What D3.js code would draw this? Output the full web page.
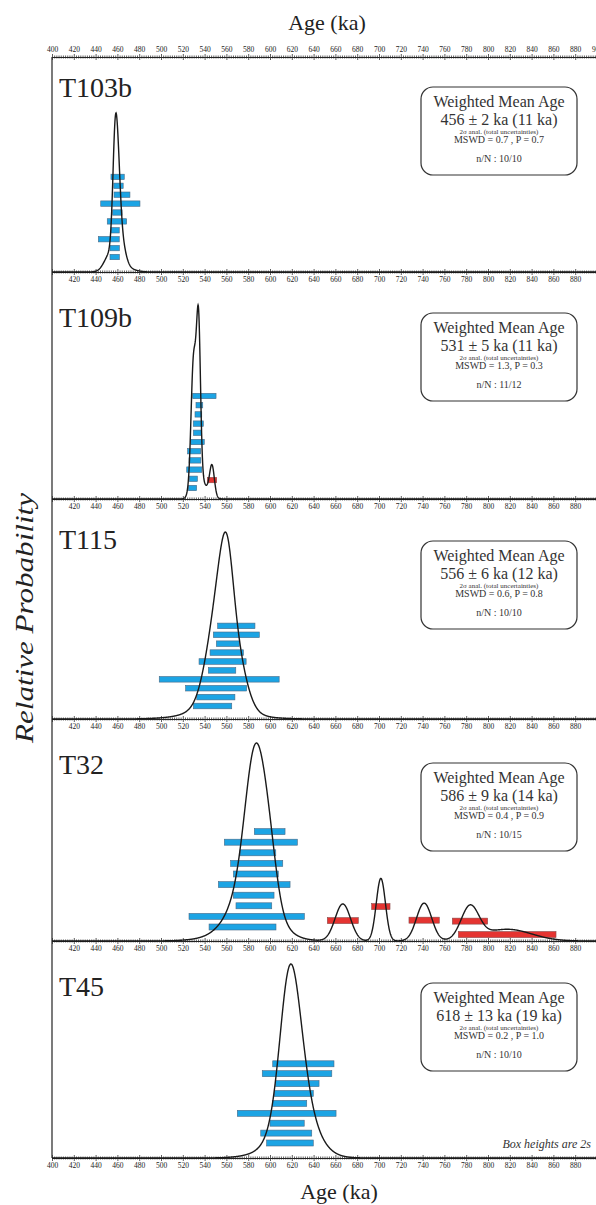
<!DOCTYPE html>
<html><head><meta charset="utf-8">
<script src="https://cdn.jsdelivr.net/npm/d3@7"></script>
<style>body{margin:0;background:#fff}svg{display:block}</style>
</head><body><svg id="c" width="596" height="1205"></svg>
<script>
// ---------------- DATA ----------------
const sampleNames = ["T103b", "T109b", "T115", "T32", "T45"];
// accepted analyses (age ka, 2σ half-width ka), listed top row to bottom row
const t103bAges = [460.2, 461.0, 464.2, 462.7, 460.0, 459.6, 457.9, 452.1, 457.5, 457.5];
const t103bErr  = [6.1, 4.3, 7.3, 18.0, 4.3, 8.9, 3.8, 9.6, 4.3, 4.3];
const t109bAges = [539.8, 535.2, 534.3, 534.2, 533.5, 533.5, 530.4, 531.1, 530.5, 529.7, 528.9];
const t109bErr  = [10.7, 3.1, 3.1, 4.6, 3.8, 6.2, 6.0, 5.4, 6.9, 3.7, 3.8];
const t115Ages  = [569.1, 569.1, 561.3, 560.3, 556.5, 556.0, 553.4, 550.6, 550.3, 547.3];
const t115Err   = [17.1, 21.1, 10.5, 15.3, 21.6, 12.6, 55.0, 28.0, 17.5, 17.6];
const t32Ages   = [599.7, 591.6, 588.9, 587.8, 587.0, 585.5, 585.0, 585.2, 578.6, 574.8];
const t32Err    = [14.1, 33.5, 16.4, 23.9, 20.6, 32.9, 18.7, 16.4, 52.9, 30.7];
const t45Ages   = [630.6, 624.8, 625.1, 621.8, 617.9, 615.3, 615.7, 614.9, 618.3];
const t45Err    = [28.1, 31.9, 19.9, 17.9, 15.8, 45.3, 15.7, 23.4, 21.4];
// rejected analyses (red)
const t103bRejAges = [], t103bRejErr = [];
const t109bRejAges = [546.8], t109bRejErr = [4.3];
const t115RejAges = [], t115RejErr = [];
const t32RejAges = [666.8, 701.7, 741.4, 783.5, 817.6];
const t32RejErr  = [14.2, 8.4, 13.9, 16.2, 44.8];
const t45RejAges = [], t45RejErr = [];
// result boxes
const meanAgeLabels = ["456 ± 2 ka (11 ka)", "531 ± 5 ka (11 ka)", "556 ± 6 ka (12 ka)", "586 ± 9 ka (14 ka)", "618 ± 13 ka (19 ka)"];
const mswdLabels = ["MSWD = 0.7 , P = 0.7", "MSWD = 1.3, P = 0.3", "MSWD = 0.6, P = 0.8", "MSWD = 0.4 , P = 0.9", "MSWD = 0.2 , P = 1.0"];
const nNLabels = ["n/N : 10/10", "n/N : 11/12", "n/N : 10/10", "n/N : 10/15", "n/N : 10/10"];
const majorTicks = d3.range(400, 901, 20);
const minorTicks = d3.range(400, 901, 2).filter(v => v % 20 !== 0);

const panels = [
  {acc: [t103bAges, t103bErr], rej: [t103bRejAges, t103bRejErr]},
  {acc: [t109bAges, t109bErr], rej: [t109bRejAges, t109bRejErr]},
  {acc: [t115Ages, t115Err], rej: [t115RejAges, t115RejErr]},
  {acc: [t32Ages, t32Err], rej: [t32RejAges, t32RejErr]},
  {acc: [t45Ages, t45Err], rej: [t45RejAges, t45RejErr]},
];

// ---------------- LAYOUT ----------------
const topAxisY = 57;
const axisY = [272, 499, 719, 941, 1158];
const peakY = [113, 305, 532, 743, 964];
const rowBottom = [15, 11, 13, 14, 15];
const rowStep = [8.9, 9.2, 8.9, 10.6, 9.9];
const barH = [5.4, 5.4, 5.6, 6, 6];
const labelBase = [97, 327, 549, 774, 996];
const boxTop = [87, 313, 541, 763, 983];
const boxX = 421, boxW = 156, boxH = 88;
const serif = "'Liberation Serif','Times New Roman',serif";
const blue = "#1ca4e4", red = "#e53431";

const svg = d3.select("#c");
const x = d3.scaleLinear().domain([400, 900]).range([52, 597]);

function drawAxis(y, labelsBelow, firstLabel) {
  const g = svg.append("g").attr("transform", `translate(0,${y})`);
  const mk = (dir, vals, size, labels) => {
    const ax = (dir === "up" ? d3.axisTop(x) : d3.axisBottom(x))
      .tickValues(vals).tickSizeInner(size).tickSizeOuter(0).tickPadding(2);
    if (!labels) ax.tickFormat("");
    else ax.tickFormat(v => v < firstLabel || (v > 890 && labelsBelow) ? "" : d3.format("d")(v));
    const a = g.append("g").call(ax);
    a.select(".domain").attr("stroke", "#222").attr("stroke-width", 1.2);
    a.selectAll(".tick line").attr("stroke", "#333").attr("stroke-width", 0.8);
    a.selectAll("text").attr("font-family", serif).attr("font-size", 7.5).attr("fill", "#222");
    return a;
  };
  mk("up", minorTicks, 1.5, false);
  mk("down", minorTicks, 1.5, false);
  mk("up", majorTicks, 3, !labelsBelow);
  mk("down", majorTicks, 3, labelsBelow);
}

// left frame
svg.append("line").attr("x1", x(400)).attr("x2", x(400)).attr("y1", topAxisY).attr("y2", axisY[4])
  .attr("stroke", "#222").attr("stroke-width", 1.2);

drawAxis(topAxisY, false, 400);
axisY.forEach((ay, i) => drawAxis(ay, true, i === 4 ? 400 : 420));

// titles
svg.append("text").attr("x", 327).attr("y", 30).attr("text-anchor", "middle")
  .attr("font-family", serif).attr("font-size", 22).attr("fill", "#222").text("Age (ka)");
svg.append("text").attr("x", 339).attr("y", 1199).attr("text-anchor", "middle")
  .attr("font-family", serif).attr("font-size", 22).attr("fill", "#222").text("Age (ka)");
svg.append("text").attr("transform", "translate(33,618) rotate(-90)").attr("text-anchor", "middle")
  .attr("font-family", serif).attr("font-style", "italic").attr("font-size", 26).attr("fill", "#222")
  .attr("textLength", 250).attr("lengthAdjust", "spacingAndGlyphs")
  .text("Relative Probability");
svg.append("text").attr("x", 591).attr("y", 1148).attr("text-anchor", "end")
  .attr("font-family", serif).attr("font-style", "italic").attr("font-size", 12).attr("fill", "#333")
  .text("Box heights are 2s");

const gauss = (v, m, s) => Math.exp(-0.5 * ((v - m) / s) ** 2) / (s * Math.sqrt(2 * Math.PI));
const grid = d3.range(400, 900.01, 0.25);

panels.forEach((p, i) => {
  const [aA, aE] = p.acc, [rA, rE] = p.rej;
  const all = aA.map((a, k) => [a, aE[k]]).concat(rA.map((a, k) => [a, rE[k]]));
  const dens = v => d3.sum(all, d => gauss(v, d[0], d[1] / 2));
  const pts = grid.map(v => [v, dens(v)]);
  const maxD = d3.max(pts, d => d[1]);
  const y = d3.scaleLinear().domain([0, maxD]).range([axisY[i], peakY[i]]);
  const g = svg.append("g");

  // blue bars
  const n = aA.length;
  const rowY = d3.scaleLinear().domain([n - 1, 0]).range([axisY[i] - rowBottom[i], axisY[i] - rowBottom[i] - (n - 1) * rowStep[i]]);
  g.selectAll("rect.acc").data(aA.map((a, k) => ({a, e: aE[k], k}))).join("rect")
    .attr("x", d => x(d.a - d.e)).attr("width", d => x(d.a + d.e) - x(d.a - d.e))
    .attr("y", d => rowY(d.k) - barH[i] / 2).attr("height", barH[i])
    .attr("fill", blue).attr("stroke", "#4a6a86").attr("stroke-width", 0.6);

  // red bars
  g.selectAll("rect.rej").data(rA.map((a, k) => ({a, e: rE[k]}))).join("rect")
    .attr("x", d => x(d.a - d.e)).attr("width", d => x(d.a + d.e) - x(d.a - d.e))
    .attr("y", d => y(0.55 * dens(d.a)) - barH[i] / 2).attr("height", barH[i])
    .attr("fill", red).attr("stroke", "#8a4a4a").attr("stroke-width", 0.6);

  // curve
  g.append("path").datum(pts).attr("fill", "none").attr("stroke", "#1a1a1a").attr("stroke-width", 1.4)
    .attr("d", d3.line().x(d => x(d[0])).y(d => y(d[1])));

  // sample label
  svg.append("text").attr("x", 59).attr("y", labelBase[i]).attr("font-family", serif)
    .attr("font-size", 28).attr("fill", "#222").text(sampleNames[i]);

  // result box
  const b = svg.append("g").attr("transform", `translate(${boxX},${boxTop[i]})`);
  b.append("rect").attr("width", boxW).attr("height", boxH).attr("rx", 12).attr("fill", "#fff")
    .attr("stroke", "#333").attr("stroke-width", 1.2);
  const cx = boxW / 2;
  const t = (yy, sz, s) => b.append("text").attr("x", cx).attr("y", yy).attr("text-anchor", "middle")
    .attr("font-family", serif).attr("font-size", sz).attr("fill", "#333").text(s);
  t(20, 16, "Weighted Mean Age");
  t(37.5, 16, meanAgeLabels[i]);
  t(46.5, 7, "2σ anal. (total uncertainties)");
  t(55.5, 10, mswdLabels[i]);
  t(75, 10, nNLabels[i]);
});
</script></body></html>
